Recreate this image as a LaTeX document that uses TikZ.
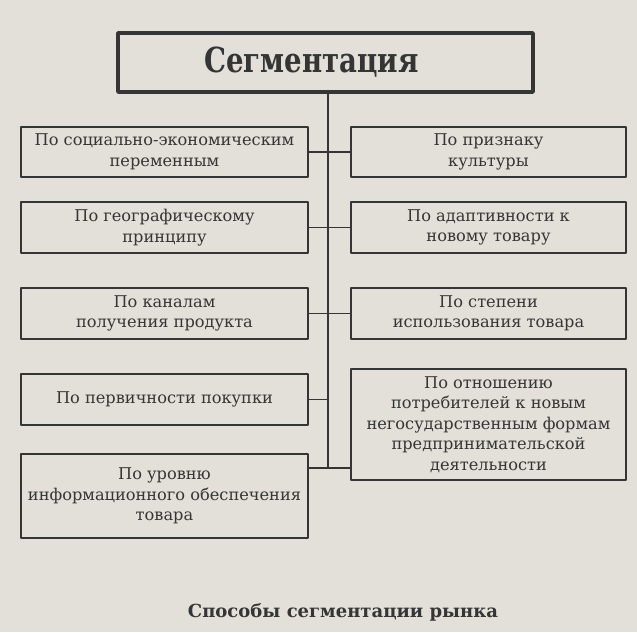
\documentclass[tikz,border=0pt]{standalone}
\usepackage{fontspec}
\setmainfont{DejaVu Serif}
\newfontfamily\titlefont[FakeStretch=0.8]{DejaVu Serif}
\definecolor{paper}{HTML}{E2E0D8}
\definecolor{ink}{HTML}{353535}
\begin{document}
\begin{tikzpicture}[x=1pt,y=-1pt,line join=round,
	every node/.style={text=ink,font=\fontsize{16.2}{20.5}\selectfont},
	seg/.style={draw=ink,line width=1.7pt,align=center,inner sep=0pt},
	lbox/.style={seg,minimum width=287pt},
	rbox/.style={seg,minimum width=275pt},
	link/.style={draw=ink,line width=1.6pt}]
	\fill[paper] (0,0) rectangle (637,632);
	\node[seg,line width=3.5pt,minimum width=415pt,minimum height=59pt,font=\titlefont\bfseries\fontsize{34.5}{36}\selectfont] (title) at (325.5,62.5) {\hspace*{-28pt}Сегментация};
	% left column
	\node[lbox,minimum height=50pt] (L1) at (164.5,152) {По социально-экономическим\\переменным};
	\node[lbox,minimum height=51pt] (L2) at (164.5,227.5) {По географическому\\принципу};
	\node[lbox,minimum height=51pt] (L3) at (164.5,313.5) {По каналам\\получения продукта};
	\node[lbox,minimum height=51pt] (L4) at (164.5,399.5) {По первичности покупки};
	\node[lbox,minimum height=84pt] (L5) at (164.5,496) {По уровню\\информационного обеспечения\\товара};
	% right column
	\node[rbox,minimum height=50pt] (R1) at (488.5,152) {По признаку\\культуры};
	\node[rbox,minimum height=51pt] (R2) at (488.5,227.5) {По адаптивности к\\новому товару};
	\node[rbox,minimum height=51pt] (R3) at (488.5,313.5) {По степени\\использования товара};
	\node[rbox,minimum height=111pt] (R4) at (488.5,424.5) {По отношению\\потребителей к новым\\негосударственным формам\\предпринимательской\\деятельности};
	\node[font=\bfseries\fontsize{18}{20}\selectfont] (cap) at (343,612) {Способы сегментации рынка};
	% connectors
	\coordinate (tb) at (328,468);
	\draw[link] (title.south -| tb) -- (tb);
	\foreach \i in {1,2,3} \draw[link] (L\i) -- (R\i);
	\draw[link] (L4) -- (L4 -| tb);
	\draw[link] (L5.east |- tb) -- (R4.west |- tb);
\end{tikzpicture}
\end{document}
